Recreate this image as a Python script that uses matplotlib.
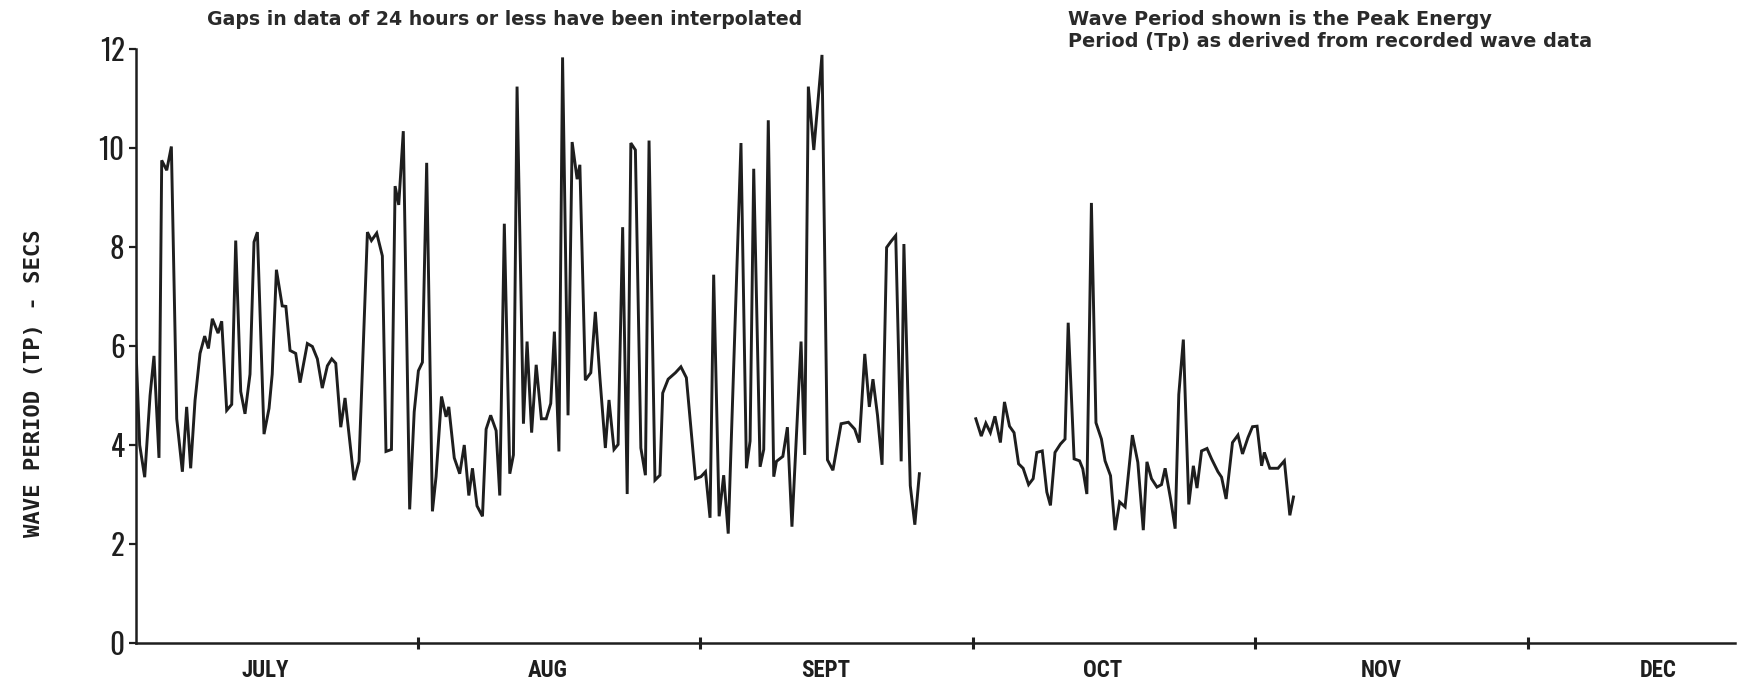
import matplotlib
matplotlib.use('Agg')
import matplotlib.pyplot as plt
import matplotlib.transforms as mtransforms

# Peak energy wave period (Tp), days counted from 1 July
# first record: 1 July - 26 Sept
days_a = [0.0, 0.44, 0.99, 1.58, 2.01, 2.56, 2.86, 3.41, 3.92, 4.51,
          5.13, 5.60, 6.04, 6.52, 7.07, 7.58, 7.99, 8.42, 9.05, 9.45,
          10.0, 10.55, 10.99, 11.54, 12.01, 12.56, 13.0, 13.37, 14.1, 14.65,
          15.0, 15.46, 16.1, 16.5, 16.96, 17.58, 18.06, 18.86, 19.41, 19.96,
          20.5, 21.06, 21.54, 21.98, 22.53, 23.0, 23.99, 24.54, 25.46, 25.9,
          26.48, 27.1, 27.5, 28.1, 28.5, 28.9, 29.4, 30.1, 30.6, 31.06,
          31.5, 31.97, 32.6, 33.0, 33.6, 34.1, 34.4, 35.0, 35.6, 36.1,
          36.6, 37.0, 37.5, 38.1, 38.5, 39.0, 39.6, 40.0, 40.5, 41.1,
          41.5, 41.9, 42.6, 43.0, 43.5, 44.0, 44.57, 45.1, 45.6, 46.0,
          46.5, 46.9, 47.5, 47.95, 48.5, 48.8, 49.4, 50.0, 50.5, 51.0,
          51.6, 52.0, 52.55, 53.0, 53.5, 54.0, 54.4, 54.9, 55.5, 56.0,
          56.4, 57.05, 57.6, 57.9, 58.5, 59.3, 59.9, 60.5, 61.5, 62.1,
          62.6, 63.1, 63.5, 64.1, 64.6, 65.1, 66.5, 67.1, 67.5, 67.9,
          68.6, 69.0, 69.5, 70.1, 70.4, 71.1, 71.6, 72.1, 73.1, 73.5,
          73.9, 74.5, 75.4, 76.0, 76.6, 77.5, 78.3, 79.0, 79.5, 80.1,
          80.6, 81.0, 81.5, 82.0, 82.5, 82.97, 83.5, 84.1, 84.4, 85.1,
          85.6, 86.1]
tp_a = [6.1, 4.0, 3.35, 5.0, 5.8, 3.74, 9.75, 9.55, 10.03, 4.53,
        3.46, 4.77, 3.53, 4.9, 5.85, 6.2, 5.95, 6.55, 6.26, 6.5,
        4.7, 4.82, 8.13, 5.08, 4.63, 5.43, 8.1, 8.3, 4.22, 4.74,
        5.43, 7.54, 6.81, 6.8, 5.91, 5.85, 5.26, 6.05, 5.99, 5.74,
        5.15, 5.6, 5.74, 5.65, 4.36, 4.95, 3.29, 3.67, 8.3, 8.13,
        8.28, 7.82, 3.87, 3.91, 9.23, 8.85, 10.34, 2.7, 4.67, 5.5,
        5.67, 9.7, 2.66, 3.36, 4.98, 4.57, 4.77, 3.74, 3.42, 4.0,
        2.98, 3.53, 2.77, 2.56, 4.32, 4.6, 4.29, 2.98, 8.47, 3.42,
        3.8, 11.24, 4.43, 6.09, 4.25, 5.62, 4.53, 4.53, 4.84, 6.29,
        3.87, 11.83, 4.6, 10.12, 9.37, 9.66, 5.31, 5.46, 6.69, 5.36,
        3.94, 4.91, 3.91, 4.01, 8.4, 3.01, 10.1, 9.96, 3.94, 3.39,
        10.15, 3.29, 3.39, 5.05, 5.33, 5.46, 5.58, 5.36, 3.32, 3.36,
        3.46, 2.53, 7.44, 2.56, 3.39, 2.21, 10.1, 3.53, 4.08, 9.58,
        3.56, 3.91, 10.56, 3.36, 3.67, 3.77, 4.36, 2.35, 6.09, 3.8,
        11.24, 9.96, 11.88, 3.7, 3.49, 4.43, 4.46, 4.32, 4.05, 5.84,
        4.77, 5.33, 4.6, 3.6, 7.99, 8.11, 8.23, 3.67, 8.06, 3.18,
        2.39, 3.42]

# second record: 1 Oct - 4 Nov
days_b = [92.3, 92.9, 93.4, 93.9, 94.4, 95.0, 95.45, 96.0, 96.5, 97.0,
          97.5, 98.1, 98.6, 99.0, 99.6, 100.1, 100.5, 101.0, 101.6, 102.1,
          102.45, 103.1, 103.7, 104.05, 104.5, 105.0, 105.5, 106.1, 106.5, 107.1,
          107.6, 108.1, 108.7, 109.5, 110.1, 110.7, 111.1, 111.6, 112.2, 112.7,
          113.1, 113.7, 114.2, 114.6, 115.1, 115.7, 116.2, 116.6, 117.1, 117.7,
          118.2, 118.9, 119.3, 119.8, 120.5, 121.1, 121.6, 122.2, 122.7, 123.2,
          123.7, 124.0, 124.6, 125.5, 126.2, 126.8, 127.2]
tp_b = [4.53, 4.18, 4.44, 4.25, 4.58, 4.05, 4.87, 4.38, 4.25, 3.62,
        3.53, 3.2, 3.32, 3.85, 3.88, 3.05, 2.78, 3.85, 4.02, 4.12,
        6.47, 3.72, 3.68, 3.52, 3.01, 8.89, 4.45, 4.12, 3.68, 3.38,
        2.28, 2.85, 2.75, 4.2, 3.65, 2.28, 3.66, 3.32, 3.15, 3.2,
        3.53, 2.91, 2.31, 5.02, 6.13, 2.8, 3.58, 3.13, 3.88, 3.93,
        3.72, 3.46, 3.35, 2.91, 4.05, 4.2, 3.82, 4.15, 4.37, 4.38,
        3.58, 3.85, 3.53, 3.53, 3.68, 2.58, 2.95]

months = ['JULY', 'AUG', 'SEPT', 'OCT', 'NOV', 'DEC']
month_len = [31, 31, 30, 31, 30, 31]
yticks = [0, 2, 4, 6, 8, 10, 12]

ink = '#1e1e1e'
tick_font = ['Oswald', 'DejaVu Sans']
month_font = ['Roboto Condensed', 'DejaVu Sans']

fig = plt.figure(figsize=(17.44, 6.84), dpi=100)
ax = fig.add_axes([0.0778, 0.0599, 0.917, 0.8685])

ax.plot(days_a, tp_a, color=ink, lw=2.1, solid_joinstyle='miter')
ax.plot(days_b, tp_b, color=ink, lw=2.1, solid_joinstyle='miter')

ax.set_xlim(0, 175.7)
ax.set_ylim(0, 12)
ax.set_facecolor('white')
for side in ['top', 'right']:
    ax.spines[side].set_visible(False)
for side in ['left', 'bottom']:
    ax.spines[side].set_color(ink)
    ax.spines[side].set_linewidth(1.8)

ax.set_yticks(yticks)
ax.set_yticklabels([str(v) for v in yticks], family=tick_font, fontsize=21, color=ink)
ax.tick_params(axis='y', direction='out', length=5, width=1.6, pad=3, colors=ink)

# month boundaries as ticks, names centred in each month
starts = [sum(month_len[:i]) for i in range(len(months))]
ax.set_xticks(starts[1:])
ax.set_xticklabels([])
ax.tick_params(axis='x', direction='inout', length=9, width=2.2, colors=ink)

trans = mtransforms.blended_transform_factory(ax.transData, ax.transAxes)
for name, s, n in zip(months, starts, month_len):
    ax.text(s + 0.46 * n, -0.047, name, transform=trans, ha='center', va='center',
            family=month_font, weight='bold', fontsize=16.5, color=ink)

fig.text(0.0195, 0.44, 'WAVE PERIOD (TP) - SECS', rotation=90, ha='center', va='center',
         family='DejaVu Sans Mono', weight='bold', fontsize=16, color=ink)

note = '#2a2a2a'
fig.text(0.1187, 0.9708, 'Gaps in data of 24 hours or less have been interpolated',
         ha='left', va='center', family='DejaVu Sans', weight='bold', fontsize=13.6, color=note)
fig.text(0.6124, 0.9708, 'Wave Period shown is the Peak Energy',
         ha='left', va='center', family='DejaVu Sans', weight='bold', fontsize=13.9, color=note)
fig.text(0.6124, 0.9386, 'Period (Tp) as derived from recorded wave data',
         ha='left', va='center', family='DejaVu Sans', weight='bold', fontsize=13.9, color=note)

fig.savefig('out.png', dpi=100, facecolor='white')
